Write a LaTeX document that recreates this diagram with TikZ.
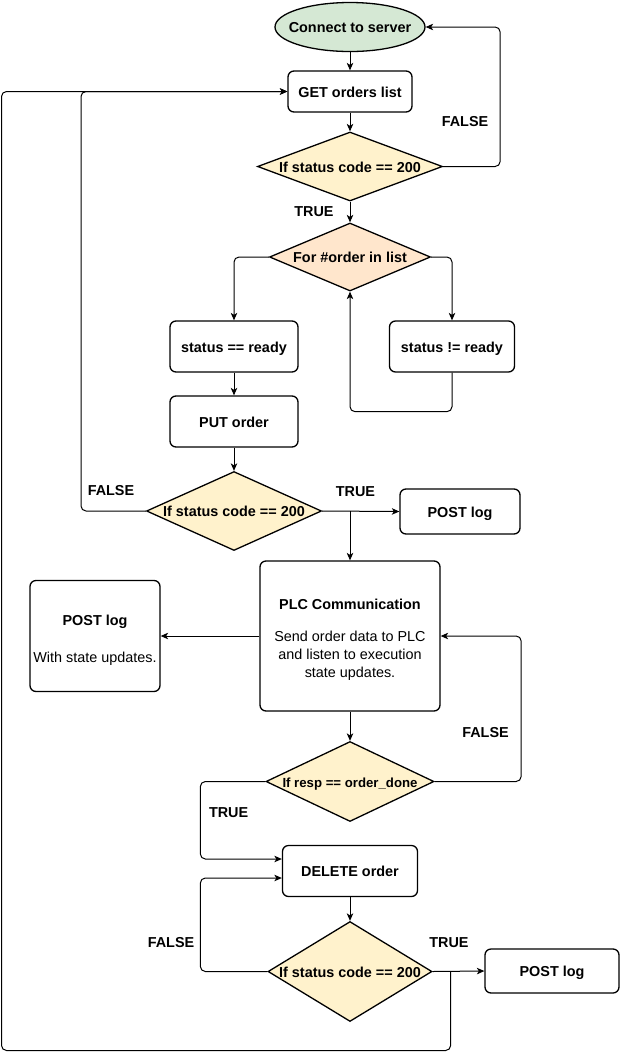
\documentclass[tikz,border=0pt]{standalone}
\usepackage{fontspec}
\setmainfont{Liberation Sans}
\usetikzlibrary{shapes.geometric,arrows.meta,calc}
\definecolor{termfill}{HTML}{D5E8D4}
\definecolor{decfill}{HTML}{FFF2CC}
\definecolor{loopfill}{HTML}{FFE6CC}
\begin{document}
\begin{tikzpicture}[x=1pt,y=-1pt,
  every node/.style={font=\fontsize{14.4}{18}\selectfont},
  box/.style={draw,line width=1.3pt,rounded corners=6pt,fill=white,inner sep=0pt,
    text height=12pt,text depth=1pt,font=\fontsize{14.4}{18}\selectfont\bfseries},
  bigbox/.style={draw,line width=1.3pt,rounded corners=6pt,fill=white,inner sep=0pt,align=center},
  term/.style={ellipse,draw,line width=1.3pt,fill=termfill,inner sep=0pt,
    text height=11.5pt,text depth=1pt,font=\fontsize{14.4}{18}\selectfont\bfseries},
  decision/.style={diamond,aspect=1,draw,line width=1.3pt,fill=decfill,inner sep=0pt,
    text height=12pt,text depth=1pt,font=\fontsize{14.4}{18}\selectfont\bfseries},
  lbl/.style={inner sep=0pt,font=\fontsize{14.4}{18}\selectfont\bfseries},
  arr/.style={line width=1pt,rounded corners=5pt,-{Stealth[length=7.5pt,width=6.5pt,inset=2pt]}},
]
\useasboundingbox (0,0) rectangle (621,1053);

% nodes
\node[term,minimum width=150pt,minimum height=49pt] (conn) at (350,27) {\makebox[0pt]{Connect to server}};
\node[box,minimum width=124pt,minimum height=41pt] (get) at (350,91.5) {GET orders list};
\node[decision,minimum width=185pt,minimum height=69pt] (d1) at (350,166.5) {\makebox[0pt]{If status code == 200}};
\node[decision,fill=loopfill,minimum width=161pt,minimum height=68pt] (d2) at (350,257) {\makebox[0pt]{For \#order in list}};
\node[box,minimum width=128pt,minimum height=51pt] (sr) at (234,346.5) {status == ready};
\node[box,minimum width=125pt,minimum height=51pt] (snr) at (452,346.5) {status != ready};
\node[box,minimum width=128pt,minimum height=51pt] (put) at (234,421.5) {PUT order};
\node[decision,minimum width=175pt,minimum height=79pt] (d3) at (234,511) {\makebox[0pt]{If status code == 200}};
\node[box,minimum width=120pt,minimum height=45pt] (post1) at (460,511.5) {POST log};
\node[bigbox,minimum width=180pt,minimum height=150pt] (plc) at (350,636)
  {\rule{0pt}{18.3pt}\textbf{PLC Communication}\\[14pt]Send order data to PLC\\and listen to execution\\state updates.};
\node[bigbox,minimum width=130pt,minimum height=111pt] (post2) at (95,636)
  {\rule{0pt}{18.4pt}\textbf{POST log}\\[19pt]With state updates.};
\node[decision,minimum width=168pt,minimum height=80pt,font=\fontsize{13.2}{16}\selectfont\bfseries] (d4) at (350,781.5) {\makebox[0pt]{If resp == order\_done}};
\node[box,minimum width=135pt,minimum height=51pt] (del) at (350,871) {DELETE order};
\node[decision,minimum width=164pt,minimum height=100pt] (d5) at (350,971.5) {\makebox[0pt]{If status code == 200}};
\node[box,minimum width=134pt,minimum height=44pt] (post3) at (552,971) {POST log};

% labels
\node[lbl] (lf1) at (465,122) {FALSE};
\node[lbl] (lt1) at (314,212) {TRUE};
\node[lbl] (lf3) at (111,491) {FALSE};
\node[lbl] (lt3) at (355.5,492) {TRUE};
\node[lbl] (lf4) at (485.5,733) {FALSE};
\node[lbl] (lt4) at (228.6,813) {TRUE};
\node[lbl] (lf5) at (171,943) {FALSE};
\node[lbl] (lt5) at (449,943) {TRUE};

% junction coordinates
\coordinate (j3) at (plc.north |- d3.east);
\coordinate (j5) at ($(d5.east)+(18,0)$);

% connectors
\draw[arr] (conn.south) -- (get.north);
\draw[arr] (get.south) -- (d1.north);
\draw[arr] (d1.south) -- (d2.north);
\draw[arr] (d1.east) -- ++(57,0) |- (conn.east);
\draw[arr] (d2.west) -| (sr.north);
\draw[arr] (d2.east) -| (snr.north);
\draw[arr] (snr.south) -- ++(0,39) -| (d2.south);
\draw[arr] (sr.south) -- (put.north);
\draw[arr] (put.south) -- (d3.north);
\draw[arr] (d3.east) -- (post1.west);
\draw[arr] (j3) -- (plc.north);
\draw[arr] (d3.west) -| (81,91.5) -- (get.west);
\draw[arr] (plc.west) -- (post2.east);
\draw[arr] (plc.south) -- (d4.north);
\draw[arr] (d4.east) -- ++(86.5,0) |- (plc.east);
\draw[arr] (d4.west) -- ++(-65,0) |- ([yshift=12pt]del.west);
\draw[arr] (del.south) -- (d5.north);
\draw[arr] (d5.west) -- ++(-67,0) |- ([yshift=-7pt]del.west);
\draw[arr] (d5.east) -- (post3.west);
\draw[arr] (j5) |- (1.5,1050.5) |- (get.west);
\end{tikzpicture}
\end{document}
